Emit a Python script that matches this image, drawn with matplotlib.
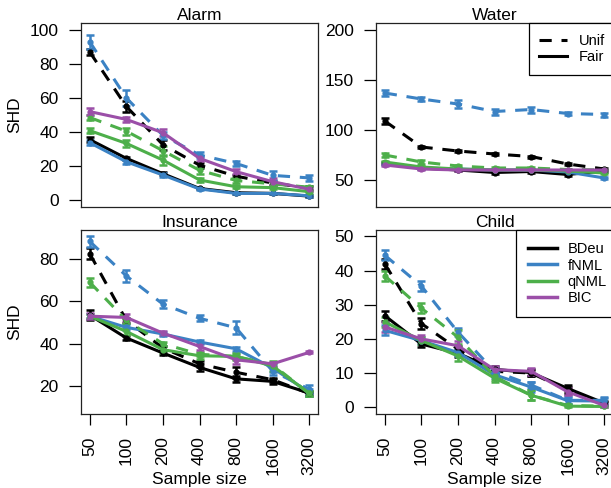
import numpy as np
import matplotlib
matplotlib.use("Agg")
import matplotlib.pyplot as plt
from matplotlib.lines import Line2D

plt.rcParams['font.family'] = ['Liberation Sans', 'DejaVu Sans']

sizes = ["50", "100", "200", "400", "800", "1600", "3200"]
scores = ["BDeu", "fNML", "qNML", "BIC"]
colors = {"BDeu": "black", "fNML": "#3b82c4", "qNML": "#4daf4a", "BIC": "#9b4fa8"}

# mean SHD, (score, prior) -> values ; BIC has no prior so only "Fair"
alarm = {
    ("BDeu", "Unif"): [87, 55, 32.5, 20.5, 14, 10, 7],
    ("BDeu", "Fair"): [35.5, 24.5, 15.5, 6.8, 4.3, 3.9, 2.3],
    ("fNML", "Unif"): [93, 60, 38, 26.5, 21.5, 14.5, 13],
    ("fNML", "Fair"): [33.7, 22.5, 14.7, 6.5, 3.9, 3.9, 2.5],
    ("qNML", "Unif"): [48.5, 40.5, 29, 17.5, 11.5, 9.5, 7.5],
    ("qNML", "Fair"): [40.8, 33.3, 23.5, 11.8, 7.8, 7.3, 4.9],
    ("BIC", "Fair"): [52, 47.4, 39.6, 24.5, 16.7, 10.8, 6.3],
}
alarm_err = {
    ("BDeu", "Unif"): [2, 3, 3, 1.5, 1, 1, 1],
    ("BDeu", "Fair"): [1.5, 1, 1, 0.5, 0.5, 0.5, 0.5],
    ("fNML", "Unif"): [4, 4.5, 2, 1.5, 1.5, 2.5, 2],
    ("fNML", "Fair"): [1.5, 1.5, 1, 0.5, 0.5, 0.5, 0.5],
    ("qNML", "Unif"): [1.5, 2, 3, 2, 1.5, 1, 1],
    ("qNML", "Fair"): [1.5, 2, 3, 1, 1, 1, 0.5],
    ("BIC", "Fair"): [2, 1.5, 2, 1.5, 1.5, 2, 1],
}

water = {
    ("BDeu", "Unif"): [109, 83, 79, 76, 73.5, 66, 61],
    ("BDeu", "Fair"): [67, 62, 60, 57.5, 58.5, 55.5, 59],
    ("fNML", "Unif"): [137, 131, 126, 118.5, 120.5, 116.5, 115.5],
    ("fNML", "Fair"): [66, 62, 61, 60, 60, 58, 52],
    ("qNML", "Unif"): [75, 68, 64, 62, 62, 60.5, 60],
    ("qNML", "Fair"): [68, 63, 61, 60, 60, 59, 57],
    ("BIC", "Fair"): [65, 61, 60, 60, 60, 60, 60],
}
water_err = {
    ("BDeu", "Unif"): [3, 1, 1, 1, 1, 1, 1],
    ("BDeu", "Fair"): [1, 1, 1, 1, 1, 1, 1],
    ("fNML", "Unif"): [3, 2, 4, 3, 3, 1.5, 2],
    ("fNML", "Fair"): [1, 1, 1, 1, 1, 1, 1],
    ("qNML", "Unif"): [2, 2, 1, 1, 1, 1, 1],
    ("qNML", "Fair"): [1, 1, 1, 1, 1, 1, 1],
    ("BIC", "Fair"): [1, 1, 1, 1, 1, 1, 1],
}

insurance = {
    ("BDeu", "Unif"): [82.5, 51, 38, 30.5, 26.5, 23, 16.5],
    ("BDeu", "Fair"): [53.5, 42.7, 35.6, 28.8, 23.4, 22.2, 16.7],
    ("fNML", "Unif"): [88.3, 72, 58.7, 52, 47.5, 27, 18.5],
    ("fNML", "Fair"): [53, 47.7, 44.6, 40.8, 37.6, 28.5, 17],
    ("qNML", "Unif"): [69, 51, 40, 35, 34, 30, 16.5],
    ("qNML", "Fair"): [53, 45.8, 37.2, 34.3, 34, 29.5, 16.5],
    ("BIC", "Fair"): [53, 52.4, 45, 38.7, 32.4, 30.5, 35.9],
}
insurance_err = {
    ("BDeu", "Unif"): [2.5, 1, 1, 1.5, 2.5, 1, 1],
    ("BDeu", "Fair"): [2.5, 1, 1, 1.5, 1.5, 1, 0.5],
    ("fNML", "Unif"): [2.5, 3, 2, 1.5, 3, 2, 2],
    ("fNML", "Fair"): [1, 1, 1, 1, 1, 2, 1.5],
    ("qNML", "Unif"): [2, 1, 1, 1, 1, 1, 1],
    ("qNML", "Fair"): [1, 1.5, 1.5, 1.5, 1.5, 2.5, 1],
    ("BIC", "Fair"): [1.5, 1.5, 1, 1.5, 2, 1, 0.5],
}

child = {
    ("BDeu", "Unif"): [42, 24.5, 17, 10.5, 10, 5, 1],
    ("BDeu", "Fair"): [26.8, 18.5, 15.8, 11.1, 10.1, 5.5, 1.2],
    ("fNML", "Unif"): [44.5, 35.5, 22, 10.5, 6.5, 2, 2],
    ("fNML", "Fair"): [22.5, 19.5, 16, 9.5, 5.9, 1.9, 1.8],
    ("qNML", "Unif"): [38.5, 29, 20.5, 9, 3.5, 0.5, 0.3],
    ("qNML", "Fair"): [25, 19.5, 15, 8.5, 3.5, 0.3, 0.2],
    ("BIC", "Fair"): [23.5, 20, 18, 11, 10.5, 4.5, 0.5],
}
child_err = {
    ("BDeu", "Unif"): [1.5, 1.5, 1, 1, 1, 1, 0.5],
    ("BDeu", "Fair"): [1.5, 1, 1, 1, 1, 1, 0.5],
    ("fNML", "Unif"): [1.5, 1.5, 1.2, 1, 1, 1, 1],
    ("fNML", "Fair"): [1.5, 1, 1, 1, 1.5, 1, 1],
    ("qNML", "Unif"): [1.5, 1.5, 2, 1, 1.5, 0.3, 0.3],
    ("qNML", "Fair"): [1.5, 1, 1.5, 1, 1.5, 0.3, 0.2],
    ("BIC", "Fair"): [1.5, 1, 1.5, 1, 1, 1, 0.5],
}

panels = [
    ("Alarm", alarm, alarm_err, (-4.1, 104.1), [0, 20, 40, 60, 80, 100]),
    ("Water", water, water_err, (23, 207), [50, 100, 150, 200]),
    ("Insurance", insurance, insurance_err, (6.8, 93.7), [20, 40, 60, 80]),
    ("Child", child, child_err, (-2, 51.9), [0, 10, 20, 30, 40, 50]),
]

W, H = 611, 488
fig = plt.figure(figsize=(W / 100, H / 100), dpi=100)
boxes = [(81, 23), (376, 23), (81, 230), (376, 230)]
aw, ah = 237, 184
fs = 12.5
lfs = 10.5

x = np.arange(1, len(sizes) + 1)
dash = (0, (4, 3.2))

for i, (name, data, err, ylim, yt) in enumerate(panels):
    l, t = boxes[i]
    ax = fig.add_axes([l / W, (H - t - ah) / H, aw / W, ah / H])
    for s in scores:
        for prior in ["Unif", "Fair"]:
            if (s, prior) not in data:
                continue
            ax.errorbar(x, data[(s, prior)], yerr=err[(s, prior)], color=colors[s],
                        ls=dash if prior == "Unif" else "-", lw=2.2,
                        marker="o", ms=3.5, capsize=3, elinewidth=1.8, capthick=1.8)
    ax.set_xlim(1 - 0.24, 7 + 0.24)
    ax.set_ylim(*ylim)
    ax.set_yticks(yt)
    ax.set_title(name, fontsize=fs, pad=2)
    for sp in ax.spines.values():
        sp.set_linewidth(0.9)
        sp.set_color("#222222")
    ax.tick_params(axis="y", direction="out", length=9, width=0.9, pad=7, labelsize=fs)
    if i >= 2:
        ax.set_xticks(x)
        ax.set_xticklabels(sizes, rotation=90, va="top", ha="center")
        ax.tick_params(axis="x", direction="out", length=8, width=0.9, pad=8, labelsize=fs)
        ax.set_xlabel("Sample size", fontsize=fs)
        ax.xaxis.set_label_coords(0.5, -0.315)
    else:
        ax.set_xticks([])
    if i % 2 == 0:
        ax.set_ylabel("SHD", fontsize=fs)
        ax.yaxis.set_label_coords(-0.25, 0.5)
    if name == "Water":
        h = [Line2D([], [], color="black", lw=2.2, ls=dash),
             Line2D([], [], color="black", lw=2.2, ls="-")]
        leg = ax.legend(h, ["Unif", "Fair"], loc="upper right",
                        bbox_to_anchor=(1 + 3 / aw, 1), borderaxespad=0,
                        fontsize=lfs, fancybox=False, framealpha=1, edgecolor="black",
                        handlelength=1.9, handletextpad=0.8, labelspacing=0.15, borderpad=0.75)
        leg.get_frame().set_linewidth(0.9)
    if name == "Child":
        h = [Line2D([], [], color=colors[s], lw=2.5) for s in scores]
        leg = ax.legend(h, scores, loc="upper right",
                        bbox_to_anchor=(1 + 6 / aw, 1), borderaxespad=0,
                        fontsize=lfs, fancybox=False, framealpha=1, edgecolor="black",
                        handlelength=2.0, handletextpad=0.7, labelspacing=0.15, borderpad=0.85)
        leg.get_frame().set_linewidth(0.9)

fig.savefig("out.png", dpi=100)
